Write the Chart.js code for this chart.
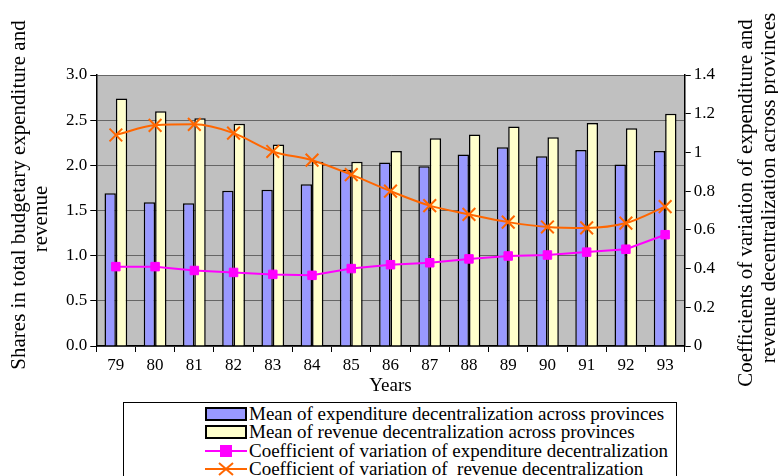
<!DOCTYPE html>
<html>
<head>
<meta charset="utf-8">
<script src="https://cdn.jsdelivr.net/npm/chart.js@4"></script>
<style>
  body { margin: 0; background: #fff; }
  #wrap { position: relative; width: 778px; height: 476px; overflow: hidden; font-family: 'Liberation Serif', 'Times New Roman', serif; }
  #box { position: absolute; left: 0; top: 0; width: 778px; height: 396px; }
  #legend {
    position: absolute; left: 123px; top: 402px; width: 552px; height: 90px;
    border: 1px solid #000; font-size: 19px;
  }
  .item { position: absolute; left: 81px; height: 18px; line-height: 18px; white-space: pre; }
  .sym { position: absolute; left: 0; top: 0; width: 42px; height: 18px; }
  .lbl { position: absolute; left: 44px; top: 0; }
  .vt {
    position: absolute; width: 420px; height: 24px; line-height: 24px;
    transform: translate(-50%, -50%) rotate(-90deg);
    text-align: center; font-size: 21px; white-space: nowrap;
  }
</style>
</head>
<body>
<div id="wrap">
  <div id="box"><canvas id="chart"></canvas></div>
  <div class="vt" style="left:18px; top:195px;">Shares in total budgetary expenditure and</div>
  <div class="vt" style="left:40px; top:219px;">revenue</div>
  <div class="vt" style="left:745px; top:203px;">Coefficients of variation of expenditure and</div>
  <div class="vt" style="left:768px; top:188px;">revenue decentralization across provinces</div>
  <div id="legend"></div>
</div>
<script>
// Data
const years = ['79', '80', '81', '82', '83', '84', '85', '86', '87', '88', '89', '90', '91', '92', '93'];
const meanExpenditure = [1.69, 1.59, 1.58, 1.72, 1.73, 1.79, 1.95, 2.03, 1.99, 2.12, 2.20, 2.10, 2.17, 2.01, 2.16];
const meanRevenue = [2.74, 2.60, 2.52, 2.46, 2.23, 2.04, 2.04, 2.16, 2.30, 2.34, 2.43, 2.31, 2.47, 2.41, 2.57];
const cvExpenditure = [0.41, 0.41, 0.39, 0.38, 0.37, 0.365, 0.40, 0.42, 0.43, 0.45, 0.465, 0.47, 0.485, 0.50, 0.575];
const cvRevenue = [1.09, 1.14, 1.145, 1.10, 1.005, 0.96, 0.885, 0.80, 0.725, 0.68, 0.64, 0.615, 0.61, 0.635, 0.72];

const serif = "'Liberation Serif', 'Times New Roman', serif";

// grey plot background
const plotBg = {
  id: 'plotBg',
  beforeDraw(chart) {
    const { ctx, chartArea: a } = chart;
    ctx.save();
    ctx.fillStyle = '#c0c0c0';
    ctx.fillRect(a.left, a.top, a.right - a.left, a.bottom - a.top);
    ctx.restore();
  }
};

const chart = new Chart(document.getElementById('chart'), {
  type: 'bar',
  data: {
    labels: years,
    datasets: [
      {
        label: 'Mean of expenditure decentralization across provinces',
        data: meanExpenditure,
        backgroundColor: '#9999ff',
        borderColor: '#000',
        borderWidth: 1.5,
        yAxisID: 'y',
        order: 2
      },
      {
        label: 'Mean of revenue decentralization across provinces',
        data: meanRevenue,
        backgroundColor: '#ffffcc',
        borderColor: '#000',
        borderWidth: 1.5,
        yAxisID: 'y',
        order: 2
      },
      {
        type: 'line',
        label: 'Coefficient of variation of expenditure decentralization',
        data: cvExpenditure,
        borderColor: '#ff00ff',
        backgroundColor: '#ff00ff',
        borderWidth: 2,
        pointStyle: 'rect',
        pointRadius: 6,
        pointBorderWidth: 1,
        tension: 0,
        yAxisID: 'y1',
        order: 1
      },
      {
        type: 'line',
        label: 'Coefficient of variation of  revenue decentralization',
        data: cvRevenue,
        borderColor: '#ff6600',
        backgroundColor: '#ff6600',
        borderWidth: 2,
        pointStyle: 'crossRot',
        pointRadius: 9,
        pointBorderWidth: 2,
        cubicInterpolationMode: 'monotone',
        yAxisID: 'y1',
        order: 1
      }
    ]
  },
  options: {
    responsive: true,
    maintainAspectRatio: false,
    animation: false,
    layout: { padding: { top: 75, left: 63, right: 60, bottom: 0 } },
    datasets: { bar: { barPercentage: 1, categoryPercentage: 0.58 } },
    plugins: {
      legend: { display: false },
      tooltip: { enabled: false }
    },
    scales: {
      x: {
        offset: true,
        grid: { drawOnChartArea: false, tickLength: 6, color: '#000', offset: true },
        border: { color: '#000', width: 1.5 },
        ticks: { color: '#000', font: { family: serif, size: 17, lineHeight: 1 }, padding: 5 },
        title: {
          display: true, text: 'Years', color: '#000',
          font: { family: serif, size: 19, lineHeight: 1 }, padding: { top: -2, bottom: 0 }
        }
      },
      y: {
        position: 'left',
        min: 0,
        max: 3,
        ticks: {
          stepSize: 0.5, color: '#000', font: { family: serif, size: 17 }, padding: 3,
          callback: v => v.toFixed(1)
        },
        grid: { color: '#666', tickColor: '#000', tickLength: 6, lineWidth: 1 },
        border: { color: '#000', width: 1.5 },
        title: { display: false }
      },
      y1: {
        position: 'right',
        min: 0,
        max: 1.4,
        ticks: {
          stepSize: 0.2, color: '#000', font: { family: serif, size: 17 }, padding: 3,
          callback: v => String(+v.toFixed(1))
        },
        grid: { drawOnChartArea: false, tickColor: '#000', tickLength: 6 },
        border: { color: '#000', width: 1.5 },
        title: { display: false }
      }
    }
  },
  plugins: [plotBg]
});

// HTML legend built from the chart datasets
const legend = document.getElementById('legend');
chart.data.datasets.forEach((ds, i) => {
  const item = document.createElement('div');
  item.className = 'item';
  item.style.top = (i * 18.3 + 2) + 'px';
  const sym = document.createElement('canvas');
  sym.className = 'sym';
  sym.width = 42; sym.height = 18;
  const c = sym.getContext('2d');
  if (ds.type === 'line') {
    c.strokeStyle = ds.borderColor;
    c.lineWidth = 2;
    c.beginPath(); c.moveTo(0, 9); c.lineTo(42, 9); c.stroke();
    if (ds.pointStyle === 'rect') {
      c.fillStyle = ds.backgroundColor;
      c.fillRect(15, 3, 12, 12);
    } else {
      c.beginPath();
      c.moveTo(14, 3); c.lineTo(28, 15);
      c.moveTo(28, 3); c.lineTo(14, 15);
      c.stroke();
    }
  } else {
    c.fillStyle = ds.backgroundColor;
    c.fillRect(1, 3, 40, 12);
    c.strokeStyle = '#000';
    c.lineWidth = 2;
    c.strokeRect(1, 3, 40, 12);
  }
  const lbl = document.createElement('span');
  lbl.className = 'lbl';
  lbl.textContent = ds.label;
  item.appendChild(sym);
  item.appendChild(lbl);
  legend.appendChild(item);
});
</script>
</body>
</html>
